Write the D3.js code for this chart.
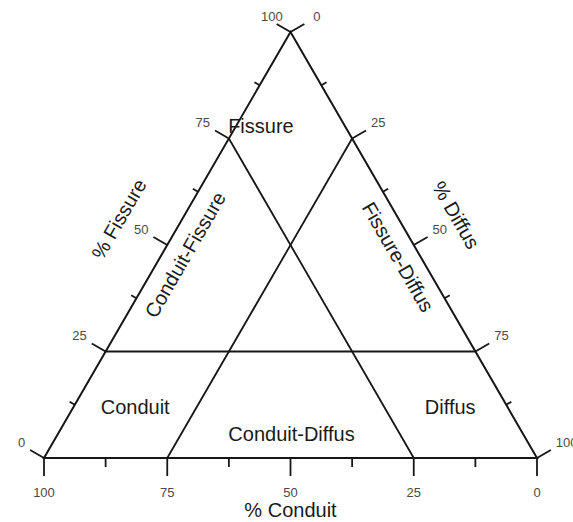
<!DOCTYPE html>
<html>
<head>
<meta charset="utf-8">
<script src="https://cdn.jsdelivr.net/npm/d3@7"></script>
<style>
  body { margin: 0; background: #fff; }
  text { font-family: "Liberation Sans", Arial, sans-serif; }
</style>
</head>
<body>
<script>
var width = 573;
var height = 522;

// tick positions along each side, in percent
var tickValues = [0, 12.5, 25, 37.5, 50, 62.5, 75, 87.5, 100];
var tickLabels = [0, 25, 50, 75, 100];

// class boundaries, each as two compositions (conduit, fissure, diffus)
var boundaries = [
  [{c: 75, f: 25, d: 0}, {c: 0, f: 25, d: 75}],
  [{c: 25, f: 75, d: 0}, {c: 25, f: 0, d: 75}],
  [{c: 0, f: 75, d: 25}, {c: 75, f: 0, d: 25}]
];

var regionNames = ['Fissure', 'Conduit-Fissure', 'Fissure-Diffus', 'Conduit', 'Conduit-Diffus', 'Diffus'];
var axisTitles = ['% Conduit', '% Fissure', '% Diffus'];

var svg = d3.select('body').append('svg')
  .attr('width', width)
  .attr('height', height);

var xs = d3.scaleLinear().domain([0, 100]).range([44, 537]);
var ys = d3.scaleLinear().domain([0, 100]).range([458, 32]);

var pt = function(p) {
  return [xs(p.d + p.f / 2), ys(p.f)];
};

var line = d3.line();
var ink = '#161616';

// outer triangle
svg.append('path')
  .attr('d', line([pt({c: 100, f: 0, d: 0}), pt({c: 0, f: 100, d: 0}), pt({c: 0, f: 0, d: 100})]) + 'Z')
  .attr('fill', 'none')
  .attr('stroke', ink)
  .attr('stroke-width', 2)
  .attr('stroke-linejoin', 'miter');

boundaries.forEach(function(b) {
  svg.append('path')
    .attr('d', line([pt(b[0]), pt(b[1])]))
    .attr('stroke', ink)
    .attr('stroke-width', 1.8)
    .attr('fill', 'none');
});

var c30 = Math.cos(Math.PI / 6), s30 = Math.sin(Math.PI / 6);
var sides = [
  {name: 'left', at: function(v) { return {c: 100 - v, f: v, d: 0}; }, dir: [-c30, -s30]},
  {name: 'right', at: function(v) { return {c: 0, f: 100 - v, d: v}; }, dir: [c30, -s30]},
  {name: 'bottom', at: function(v) { return {c: v, f: 0, d: 100 - v}; }, dir: [0, 1]}
];

sides.forEach(function(side) {
  tickValues.forEach(function(v) {
    var major = tickLabels.indexOf(v) >= 0;
    var len;
    if (side.name === 'bottom') len = major ? 18 : 9;
    else len = major ? 16 : 6;
    var p = pt(side.at(v));
    var e = [p[0] + side.dir[0] * len, p[1] + side.dir[1] * len];
    svg.append('line')
      .attr('x1', p[0]).attr('y1', p[1])
      .attr('x2', e[0]).attr('y2', e[1])
      .attr('stroke', ink)
      .attr('stroke-width', 1.8);

    if (!major) return;
    var t = svg.append('text')
      .attr('font-size', 13)
      .attr('fill', '#4a4a4a')
      .attr('dy', '0.35em')
      .text(v);
    if (side.name === 'bottom') {
      t.attr('x', p[0]).attr('y', p[1] + 34).attr('text-anchor', 'middle');
    } else if (side.name === 'left') {
      var apexL = v === 100;
      t.attr('x', e[0] + (apexL ? 6 : -5)).attr('y', e[1] - 8).attr('text-anchor', 'end');
    } else {
      var apexR = v === 0;
      t.attr('x', e[0] + (apexR ? 9 : 5)).attr('y', e[1] - 8).attr('text-anchor', 'start');
    }
  });
});

// label placement in composition space, with rotation
var labelPlaces = [
  {p: {c: 17, f: 78, d: 5}, rot: 0},
  {p: {c: 47.5, f: 47.7, d: 4.8}, rot: -60},
  {p: {c: 4.6, f: 47.2, d: 48.2}, rot: 60},
  {p: {c: 75.5, f: 12, d: 12.5}, rot: 0},
  {p: {c: 47, f: 5.6, d: 47.4}, rot: 0},
  {p: {c: 11.6, f: 12, d: 76.4}, rot: 0}
];

regionNames.forEach(function(name, i) {
  var lp = labelPlaces[i];
  var q = pt(lp.p);
  svg.append('text')
    .attr('transform', 'translate(' + q[0] + ',' + q[1] + ') rotate(' + lp.rot + ')')
    .attr('text-anchor', 'middle')
    .attr('dy', '0.35em')
    .attr('font-size', 20)
    .attr('fill', '#1a1a1a')
    .text(name);
});

var titlePlaces = [
  {x: xs(50), y: 510, rot: 0},
  {x: 119, y: 219, rot: -60},
  {x: 456, y: 215, rot: 60}
];

axisTitles.forEach(function(name, i) {
  var tp = titlePlaces[i];
  svg.append('text')
    .attr('transform', 'translate(' + tp.x + ',' + tp.y + ') rotate(' + tp.rot + ')')
    .attr('text-anchor', 'middle')
    .attr('dy', '0.35em')
    .attr('font-size', 20)
    .attr('fill', '#1a1a1a')
    .text(name);
});
</script>
</body>
</html>
